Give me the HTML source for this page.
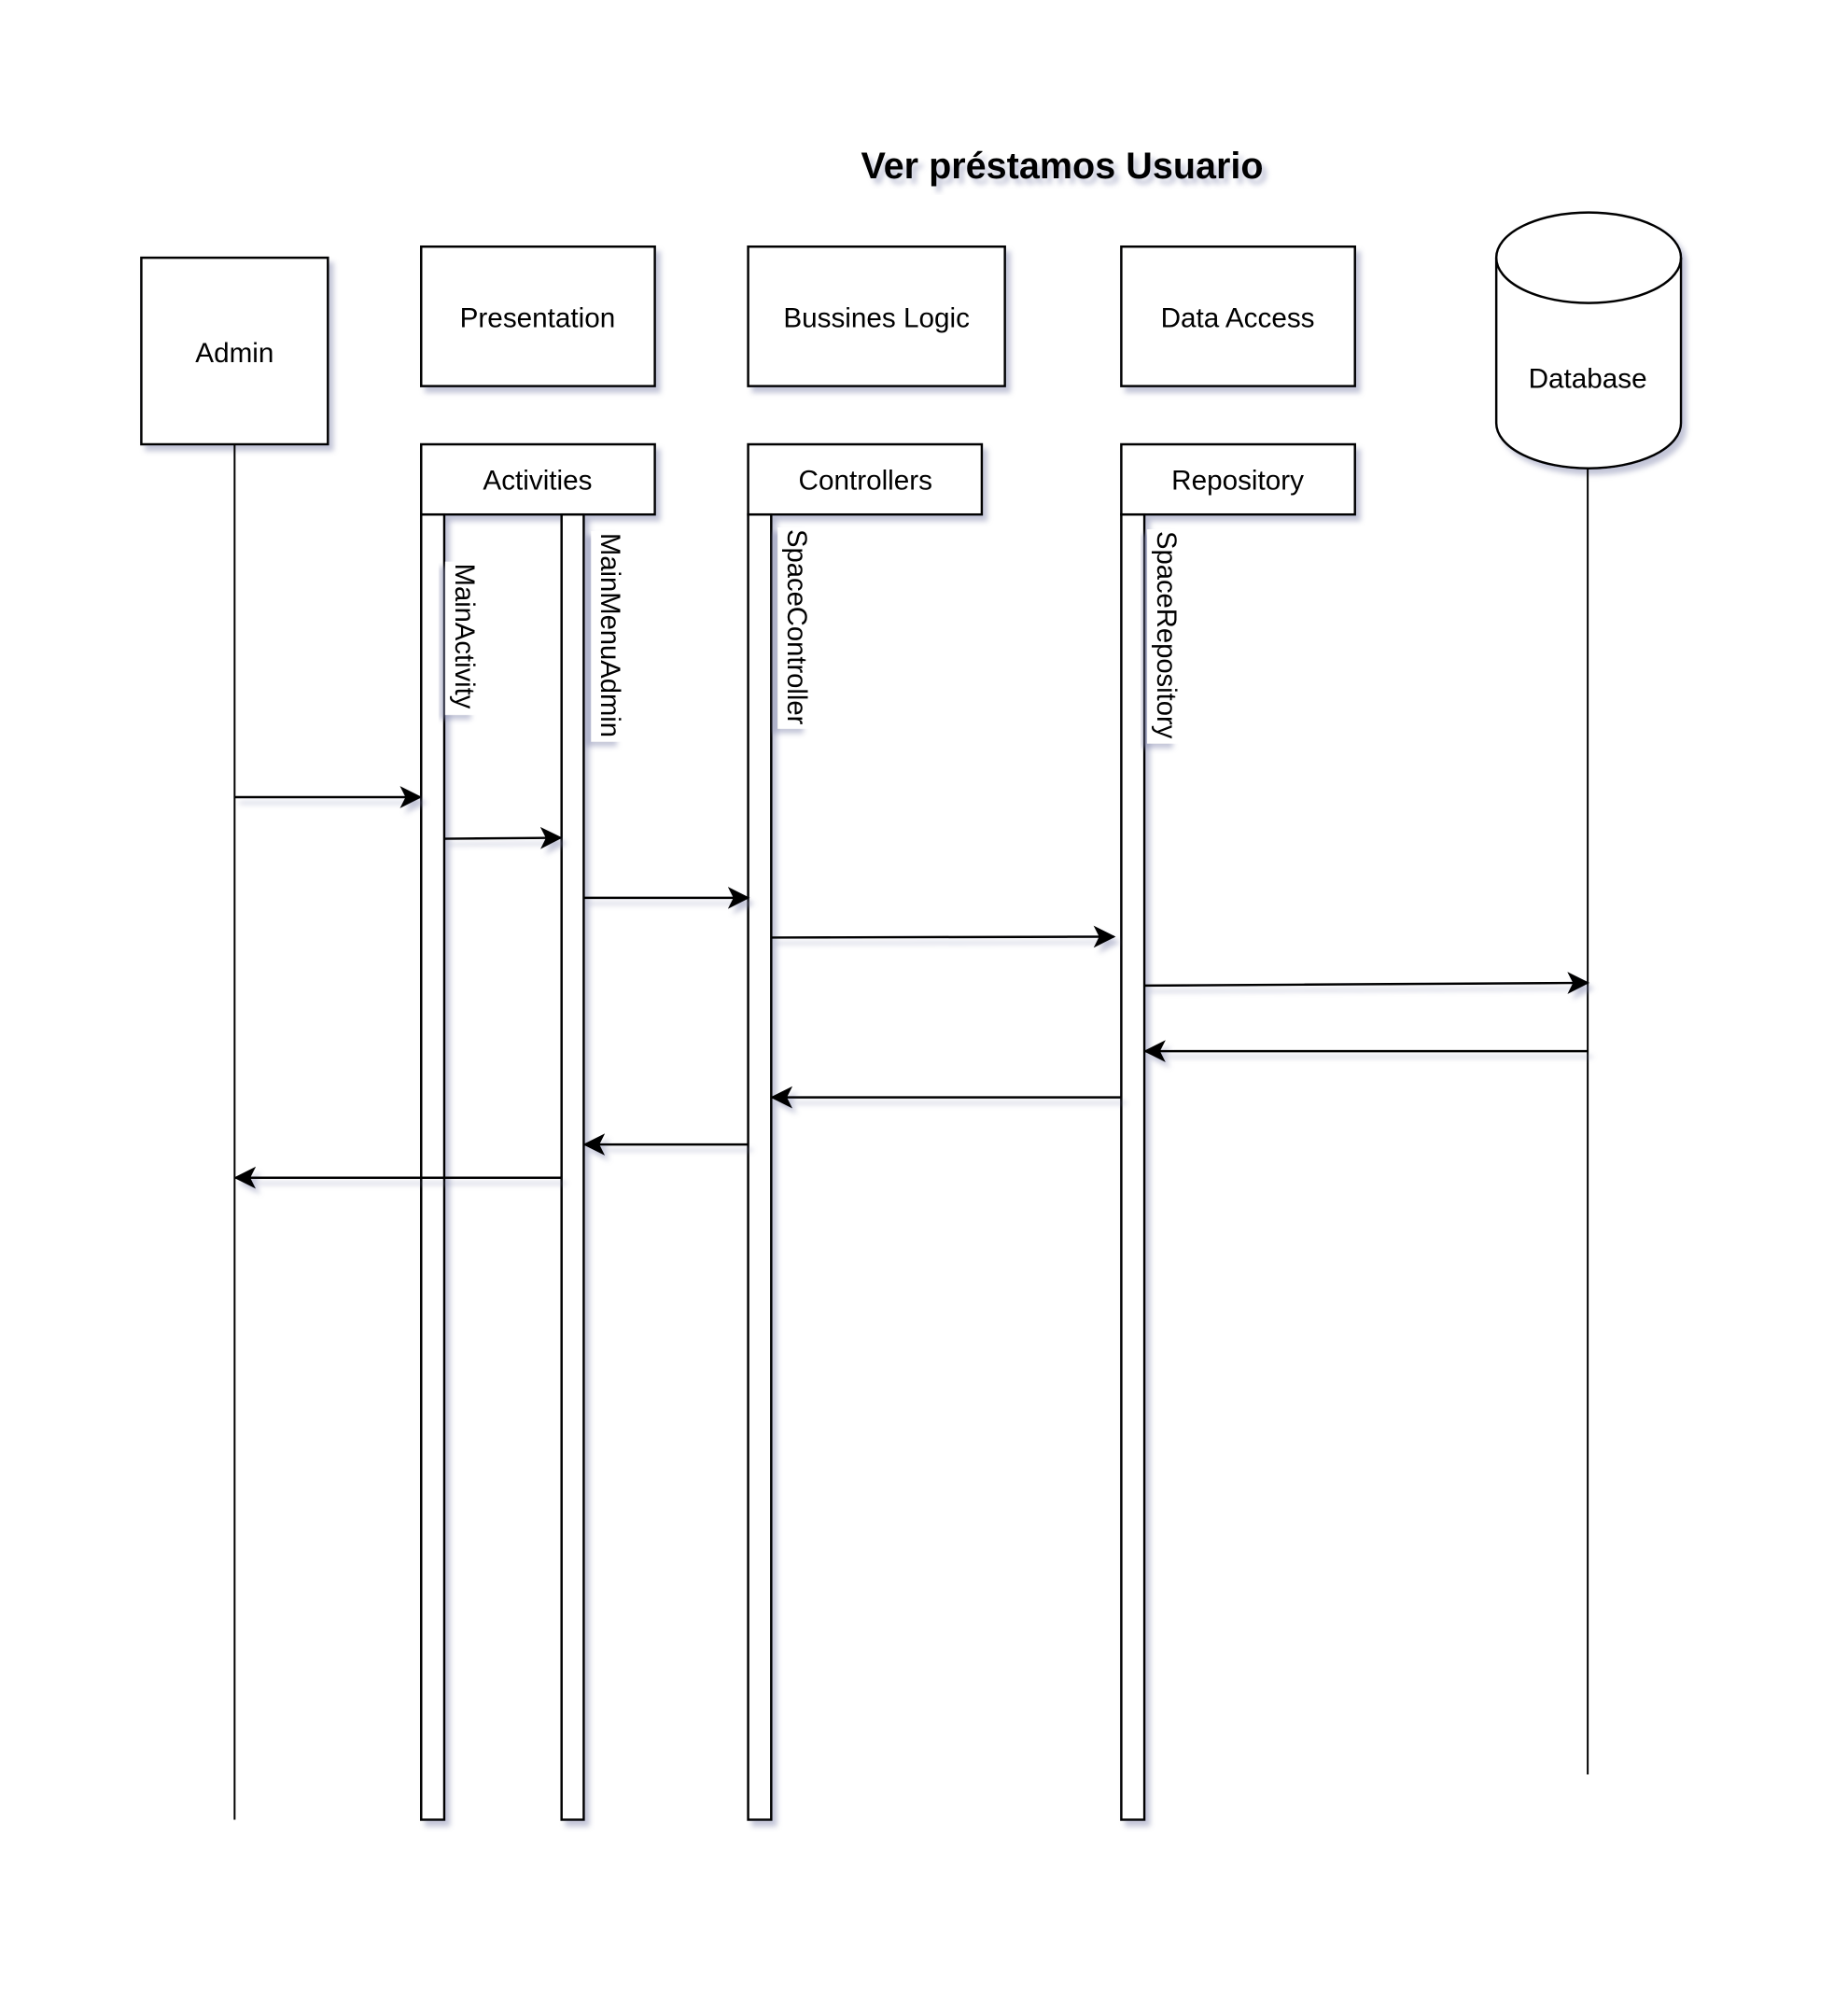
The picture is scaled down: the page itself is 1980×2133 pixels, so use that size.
<!DOCTYPE html>
<html><head><meta charset="utf-8"><style>
html,body{margin:0;padding:0;background:#fff;}
svg{display:block;}
text{font-family:"Liberation Sans",Arial,sans-serif;}
</style></head><body>
<svg width="1980" height="2133" viewBox="0 0 1980 2133" xmlns="http://www.w3.org/2000/svg">
<defs>
<filter id="sh" x="-20%" y="-20%" width="140%" height="140%">
<feGaussianBlur in="SourceAlpha" stdDeviation="3"/>
<feOffset dx="5" dy="6" result="o"/>
<feFlood flood-color="#7a7fa8" flood-opacity="0.45"/>
<feComposite in2="o" operator="in"/>
<feMerge><feMergeNode/><feMergeNode in="SourceGraphic"/></feMerge>
</filter>
<marker id="ar" viewBox="0 0 24 26" refX="22" refY="13" markerWidth="24" markerHeight="26" markerUnits="userSpaceOnUse" orient="auto">
<path d="M0,1 L24,13 L0,25 L6,13 Z" fill="#000"/>
</marker>
</defs>
<g transform="scale(0.9896)">
<text x="1150" y="193" font-size="40" font-weight="bold" text-anchor="middle" filter="url(#sh)">Ver préstamos Usuario</text>
<g fill="#fff" stroke="#000" stroke-width="2.5" filter="url(#sh)">
<rect x="153" y="279" width="202" height="202"/>
<rect x="456" y="267" width="253" height="151"/>
<rect x="810" y="267" width="278" height="151"/>
<rect x="1214" y="267" width="253" height="151"/>
<path d="M1620,279 A100,49 0 0 1 1820,279 L1820,458 A100,49 0 0 1 1620,458 Z"/>
<rect x="456" y="481" width="253" height="76"/>
<rect x="810" y="481" width="253" height="76"/>
<rect x="1214" y="481" width="253" height="76"/>
</g>
<path d="M1620,279 A100,49 0 0 0 1820,279" fill="none" stroke="#000" stroke-width="2.5"/>
<g stroke="#000" stroke-width="2" fill="none">
<line x1="254" y1="481" x2="254" y2="1970"/>
<line x1="1719" y1="507" x2="1719" y2="1921"/>
</g>
<g fill="#fff" stroke="#000" stroke-width="2.5" filter="url(#sh)">
<rect x="456" y="557" width="25" height="1413"/>
<rect x="608" y="557" width="24" height="1413"/>
<rect x="810" y="557" width="25" height="1413"/>
<rect x="1214" y="557" width="25" height="1413"/>
</g>
<g font-size="30" text-anchor="middle" fill="#000">
<text x="254" y="392">Admin</text>
<text x="582" y="354">Presentation</text>
<text x="949" y="354">Bussines Logic</text>
<text x="1340" y="354">Data Access</text>
<text x="1719" y="420">Database</text>
<text x="582" y="530">Activities</text>
<text x="937" y="530">Controllers</text>
<text x="1340" y="530">Repository</text>
</g>
<g font-size="29.5" fill="#000">
<g transform="translate(493,610) rotate(90)"><rect x="-2" y="-23" width="166" height="34" fill="#fff" filter="url(#sh)"/><text x="0" y="0">MainActivity</text></g>
<g transform="translate(651,577) rotate(90)"><rect x="-2" y="-23" width="228" height="34" fill="#fff" filter="url(#sh)"/><text x="0" y="0">MainMenuAdmin</text></g>
<g transform="translate(853,573) rotate(90)"><rect x="-2" y="-23" width="218" height="34" fill="#fff" filter="url(#sh)"/><text x="0" y="0">SpaceController</text></g>
<g transform="translate(1253,575) rotate(90)"><rect x="-2" y="-23" width="232" height="34" fill="#fff" filter="url(#sh)"/><text x="0" y="0">SpaceRepository</text></g>
</g>
<g stroke="#000" stroke-width="2.5" fill="none" marker-end="url(#ar)" filter="url(#sh)">
<line x1="254" y1="863" x2="455" y2="863"/>
<line x1="481" y1="908" x2="607" y2="907"/>
<line x1="632" y1="972" x2="810" y2="972"/>
<line x1="835" y1="1015" x2="1206" y2="1014"/>
<line x1="1239" y1="1067" x2="1719" y2="1064"/>
<line x1="1719" y1="1138" x2="1240" y2="1138"/>
<line x1="1214" y1="1188" x2="836" y2="1188"/>
<line x1="810" y1="1239" x2="633" y2="1239"/>
<line x1="608" y1="1275" x2="255" y2="1275"/>
</g>
</g>
</svg>
</body></html>
